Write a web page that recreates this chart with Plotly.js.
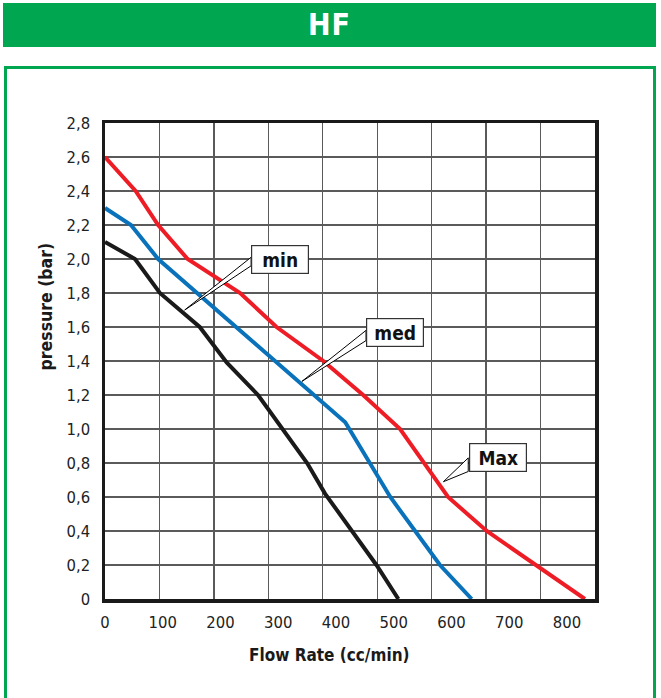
<!DOCTYPE html>
<html>
<head>
<meta charset="utf-8">
<script src="https://cdn.plot.ly/plotly-3.0.1.min.js"></script>
<style>
  html, body { margin: 0; padding: 0; background: #ffffff; width: 661px; height: 698px; overflow: hidden; }
  #header { position: absolute; left: 3px; top: 3px; width: 653px; height: 44px; background: #00A650;
            color: #ffffff; font-family: "DejaVu Sans Condensed", "Liberation Sans", Arial, sans-serif; font-weight: bold; font-size: 30px;
            line-height: 44px; text-align: center; letter-spacing: 1px; }
  #frame { position: absolute; left: 4px; top: 66px; width: 646px; height: 650px; border: 3px solid #00A650; }
  #chart { position: absolute; left: 0; top: 0; width: 661px; height: 698px; }
</style>
</head>
<body>
<div id="header">HF</div>
<div id="frame"></div>
<div id="chart"></div>
<script>
// ---- data ----
const seriesNames = ["min", "med", "Max"];
const minFlow = [0, 52, 95, 164, 211, 265, 350, 381, 470, 508];
const minPressure = [2.1, 2.0, 1.8, 1.6, 1.39, 1.2, 0.8, 0.62, 0.2, 0];
const medFlow = [0, 45, 92, 416, 494, 580, 635];
const medPressure = [2.3, 2.2, 2.0, 1.04, 0.6, 0.2, 0];
const maxFlow = [0, 53, 92, 143, 234, 297, 378, 447, 511, 594, 661, 831];
const maxPressure = [2.6, 2.4, 2.2, 2.0, 1.8, 1.6, 1.4, 1.2, 1.0, 0.6, 0.4, 0];
const xTickVals = [0, 100, 200, 300, 400, 500, 600, 700, 800];
const xTickText = ["0", "100", "200", "300", "400", "500", "600", "700", "800"];
const yTickVals = [0, 0.2, 0.4, 0.6, 0.8, 1.0, 1.2, 1.4, 1.6, 1.8, 2.0, 2.2, 2.4, 2.6, 2.8];
const yTickText = ["0", "0,2", "0,4", "0,6", "0,8", "1,0", "1,2", "1,4", "1,6", "1,8", "2,0", "2,2", "2,4", "2,6", "2,8"];
const xTitle = "Flow Rate (cc/min)";
const yTitle = "pressure (bar)";

// ---- styling / layout ----
const narrow = '"DejaVu Sans Condensed", "Liberation Sans Narrow", sans-serif';
const xRange = [0, 848.5];
const colors = { min: "#1a1a1a", med: "#0a72ba", Max: "#ee1c25" };

const traces = [
  { x: maxFlow, y: maxPressure, name: seriesNames[2], line: { color: colors.Max, width: 4 } },
  { x: medFlow, y: medPressure, name: seriesNames[1], line: { color: colors.med, width: 4 } },
  { x: minFlow, y: minPressure, name: seriesNames[0], line: { color: colors.min, width: 4 } }
].map(t => Object.assign({ type: "scatter", mode: "lines", hoverinfo: "skip" }, t));

// callout labels: box centre, tail base (on box left edge) and tail tip (on the curve)
const callouts = [
  { text: "min", cx: 303, cy: 2.0, bx: 253, by1: 2.01, by2: 1.96, tx: 138, ty: 1.70 },
  { text: "med", cx: 502, cy: 1.57, bx: 452, by1: 1.58, by2: 1.52, tx: 341, ty: 1.28 },
  { text: "Max", cx: 680, cy: 0.83, bx: 629, by1: 0.83, by2: 0.75, tx: 586, ty: 0.69 }
];

const shapes = callouts.map(c => ({
  type: "path", xref: "x", yref: "y", layer: "above",
  path: `M ${c.bx},${c.by1} L ${c.tx},${c.ty} L ${c.bx},${c.by2} Z`,
  fillcolor: "#ffffff", line: { color: "#000000", width: 1 }
}));

const annotations = callouts.map(c => ({
  x: c.cx, y: c.cy, xref: "x", yref: "y", text: c.text, showarrow: false,
  font: { family: narrow, size: 19, color: "#111111", weight: "bold" },
  bgcolor: "#ffffff", bordercolor: "#333333", borderwidth: 1.2, borderpad: 1,
  width: 54, height: 25, xanchor: "center", yanchor: "middle"
}));

// axis titles (the reference places them off-centre)
annotations.push({
  text: xTitle, xref: "paper", yref: "paper", x: 0.459, y: -0.118, showarrow: false,
  xanchor: "center", yanchor: "middle",
  font: { family: narrow, size: 17, color: "#1a1a1a", weight: "bold" }
});
annotations.push({
  text: yTitle, xref: "paper", yref: "paper", x: -0.12, y: 0.615, showarrow: false,
  textangle: -90, xanchor: "center", yanchor: "middle",
  font: { family: narrow, size: 17.5, color: "#1a1a1a", weight: "bold" }
});

const layout = {
  width: 661, height: 698,
  margin: { l: 105, r: 66, t: 123, b: 99 },
  paper_bgcolor: "rgba(0,0,0,0)", plot_bgcolor: "#ffffff",
  showlegend: false,
  xaxis: {
    range: xRange, tickmode: "array", tickvals: xTickVals, ticktext: xTickText,
    showgrid: false, zeroline: false, ticks: "", ticklabelstandoff: 6,
    tickfont: { family: narrow, size: 16.5, color: "#222222" },
    showline: true, mirror: true, linecolor: "#1a1a1a", linewidth: 3.5,
    minor: { tick0: 0, dtick: (xRange[1] - xRange[0]) / 9, showgrid: true, gridcolor: "#5a5a5a", gridwidth: 1.4, ticks: "" },
    fixedrange: true
  },
  yaxis: {
    range: [0, 2.8], tickmode: "array", tickvals: yTickVals, ticktext: yTickText,
    showgrid: true, gridcolor: "#5a5a5a", gridwidth: 1.4, zeroline: false, ticks: "", ticklabelstandoff: 8,
    tickfont: { family: narrow, size: 16.5, color: "#222222" },
    showline: true, mirror: true, linecolor: "#1a1a1a", linewidth: 3.5,
    fixedrange: true
  },
  shapes: shapes,
  annotations: annotations
};

Plotly.newPlot("chart", traces, layout, { displayModeBar: false, staticPlot: true });
</script>
</body>
</html>
